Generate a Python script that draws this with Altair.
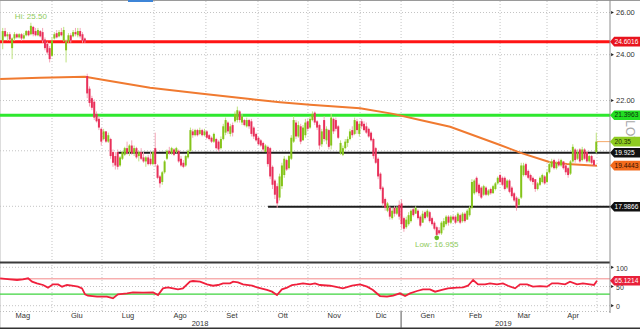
import altair as alt
import pandas as pd
import numpy as np

# ---------------- data ----------------
OPEN = [24.65,25.10,24.85,24.95,24.30,24.75,24.95,24.80,24.95,24.75,
24.90,25.10,24.95,25.30,25.10,24.90,25.10,25.05,24.70,24.50,
24.30,23.95,24.75,25.00,24.85,25.05,24.65,24.20,24.60,24.90,
24.85,25.05,24.90,25.10,24.95,24.75,23.05,22.50,22.10,21.95,
21.45,21.25,20.85,20.45,20.75,20.35,20.45,19.95,19.80,19.95,
19.45,19.70,19.85,20.10,19.95,20.20,19.90,20.10,19.80,19.95,
19.75,19.60,19.75,19.70,19.50,20.10,19.45,19.05,18.85,19.20,
19.70,20.00,19.90,20.05,19.95,20.00,19.70,19.55,19.45,19.75,
20.00,20.75,20.60,20.80,20.65,20.80,20.60,20.75,20.60,20.50,
20.35,20.45,20.35,20.10,20.45,20.70,21.10,20.65,21.00,21.15,
21.20,21.55,21.10,21.20,20.95,21.20,21.15,20.90,20.65,20.50,
20.40,20.30,19.95,20.15,20.10,19.40,18.90,18.70,18.30,18.70,
19.10,19.65,19.35,19.70,20.35,21.10,20.55,20.95,20.40,20.60,
21.15,20.90,21.20,21.50,21.15,21.00,20.25,21.20,20.40,20.80,
20.20,21.25,21.20,20.95,19.90,19.85,20.10,20.30,20.45,20.80,
20.65,21.15,20.65,21.15,21.05,20.95,20.85,20.70,20.45,20.10,
19.70,19.15,18.65,18.25,17.85,17.95,17.60,17.95,17.75,18.05,
18.10,17.60,17.30,17.40,17.50,17.90,17.75,17.85,17.65,17.45,
17.80,17.65,17.80,17.60,17.45,17.30,17.20,17.10,17.30,17.40,
17.65,17.45,17.65,17.65,17.50,17.70,17.50,17.75,17.55,17.70,
17.95,18.45,19.00,18.75,18.65,18.40,18.65,18.40,18.60,18.45,
18.60,18.80,19.10,19.00,19.00,18.65,18.90,18.65,18.45,18.30,
18.05,18.30,19.10,19.50,19.25,19.10,19.00,18.95,18.60,18.75,
18.85,19.05,18.85,19.20,19.40,19.65,19.35,19.60,19.45,19.60,
19.45,19.35,19.15,19.60,20.05,19.70,20.05,19.65,20.05,19.95,
19.60,19.80,19.65,19.95]

HIGH = [25.25,25.25,25.05,25.05,24.80,25.05,25.00,25.00,25.00,25.00,
25.15,25.15,25.50,25.35,25.25,25.25,25.15,25.25,24.80,24.60,
24.40,24.80,25.05,25.15,25.15,25.25,25.30,24.70,25.00,25.00,
25.15,25.25,25.25,25.25,25.05,24.80,23.15,22.60,22.20,22.05,
21.55,21.35,20.90,20.85,20.75,20.70,20.50,20.05,19.95,20.05,
19.80,20.00,20.15,20.35,20.25,20.40,20.20,20.15,20.00,20.10,
19.95,19.80,19.85,19.95,20.00,20.70,19.50,19.10,19.25,19.65,
20.05,20.15,20.15,20.10,20.15,20.05,19.80,19.65,19.85,20.05,
20.90,20.85,20.85,20.85,20.90,20.85,20.85,20.80,20.65,20.55,
20.70,20.50,20.40,20.55,21.05,21.30,21.15,21.05,21.10,21.55,
21.75,21.60,21.45,21.25,21.30,21.25,21.25,20.95,20.70,20.55,
20.45,20.35,20.25,20.20,20.15,19.45,18.95,18.80,19.15,19.55,
19.80,19.70,19.85,20.60,21.35,21.20,21.15,21.05,21.00,21.25,
21.25,21.35,21.55,21.55,21.20,21.05,20.85,21.35,20.95,20.85,
21.45,21.30,21.30,21.00,20.40,20.20,20.45,20.55,20.85,20.95,
21.30,21.25,21.15,21.25,21.15,21.10,20.90,20.75,20.50,20.15,
19.75,19.20,18.70,18.30,18.15,18.00,17.95,18.00,18.00,18.20,
18.25,17.65,17.65,17.80,17.90,17.95,18.00,17.90,17.70,17.85,
17.85,17.90,17.85,17.65,17.50,17.35,17.30,17.50,17.60,17.70,
17.70,17.70,17.70,17.70,17.80,17.75,17.80,17.80,17.90,18.00,
18.95,18.95,19.05,18.80,18.70,18.75,18.70,18.60,18.65,18.75,
18.85,19.05,19.15,19.05,19.05,18.95,18.95,18.70,18.50,18.35,
18.30,19.55,19.55,19.55,19.30,19.15,19.05,18.95,18.85,19.05,
19.15,19.10,19.30,19.60,19.70,19.70,19.60,19.70,19.70,19.60,
19.50,19.40,19.65,20.25,20.10,20.05,20.10,20.15,20.10,20.00,
19.85,19.85,19.70,20.70]

LOW = [24.25,24.80,24.65,24.65,23.80,24.65,24.75,24.75,24.65,24.70,
24.85,24.85,24.90,24.85,24.85,24.85,24.80,24.55,24.20,24.00,
23.65,23.90,24.70,24.75,24.80,24.85,24.60,23.65,24.55,24.55,
24.80,24.85,24.80,24.75,24.55,24.55,22.10,21.75,21.60,21.20,
21.10,20.80,20.20,20.40,20.30,20.30,19.70,19.40,19.30,19.30,
19.40,19.65,19.80,19.85,19.80,19.85,19.80,19.70,19.60,19.65,
19.55,19.40,19.45,19.45,19.45,19.40,18.95,18.65,18.75,19.15,
19.65,19.85,19.85,19.80,19.90,19.55,19.40,19.35,19.40,19.70,
19.95,20.50,20.55,20.55,20.60,20.55,20.55,20.45,20.40,20.30,
20.30,20.05,19.95,20.05,20.40,20.60,20.65,20.55,20.55,21.10,
21.10,21.10,21.00,20.95,20.90,20.85,20.55,20.45,20.35,20.20,
20.15,19.95,19.95,19.40,18.95,18.60,18.25,17.95,18.20,18.60,
19.00,19.25,19.30,19.65,20.30,20.45,20.50,20.25,20.40,20.50,
20.75,20.85,21.15,21.00,20.80,20.05,20.15,20.35,20.25,20.05,
20.05,20.65,20.75,20.45,19.85,19.80,20.05,20.15,20.40,20.50,
20.60,20.65,20.55,20.85,20.75,20.65,20.50,20.35,19.70,19.50,
18.95,18.55,18.00,17.85,17.80,17.55,17.55,17.65,17.70,17.55,
17.25,17.15,17.25,17.35,17.45,17.65,17.75,17.55,17.30,17.45,
17.55,17.60,17.45,17.35,17.20,16.955,17.05,17.05,17.20,17.35,
17.35,17.40,17.50,17.40,17.45,17.40,17.45,17.45,17.55,17.65,
17.90,18.40,18.45,18.35,18.25,18.35,18.35,18.35,18.40,18.45,
18.55,18.75,18.80,18.70,18.55,18.60,18.45,18.30,18.15,17.85,
18.00,18.25,19.05,19.05,18.95,18.85,18.75,18.50,18.55,18.70,
18.80,18.75,18.80,19.15,19.35,19.30,19.30,19.40,19.40,19.30,
19.10,19.00,19.10,19.55,19.55,19.65,19.55,19.60,19.65,19.55,
19.55,19.50,19.40,19.90]

CLOSE = [25.10,24.85,24.95,24.70,24.75,24.95,24.80,24.95,24.75,24.90,
25.10,24.90,25.35,24.95,24.90,25.15,24.85,24.65,24.30,24.10,
23.80,24.65,24.95,24.80,25.05,24.90,25.15,24.60,24.90,24.65,
25.05,24.95,25.10,24.85,24.65,24.60,22.30,21.90,21.70,21.30,
21.15,20.90,20.35,20.75,20.35,20.60,19.80,19.55,19.45,19.40,
19.75,19.95,20.10,19.90,20.20,19.90,20.10,19.75,19.95,19.70,
19.60,19.75,19.50,19.50,19.95,19.50,19.00,18.80,19.20,19.60,
20.00,19.90,20.10,19.85,20.10,19.60,19.45,19.40,19.80,20.00,
20.80,20.60,20.80,20.60,20.80,20.60,20.75,20.50,20.45,20.35,
20.65,20.10,20.05,20.45,20.95,21.20,20.75,20.95,20.70,21.45,
21.60,21.20,21.35,21.00,21.20,20.95,20.65,20.55,20.40,20.25,
20.20,20.05,20.20,19.50,19.05,18.75,18.40,18.10,19.05,19.45,
19.70,19.30,19.80,20.50,21.20,20.55,21.00,20.35,20.90,21.10,
20.85,21.25,21.45,21.10,20.90,20.20,20.75,20.45,20.85,20.15,
21.30,20.75,20.85,20.50,20.30,20.10,20.35,20.45,20.75,20.60,
21.20,20.80,21.05,20.95,20.80,20.70,20.55,20.40,19.80,19.55,
19.05,18.60,18.10,17.95,18.10,17.65,17.85,17.75,17.95,17.65,
17.40,17.25,17.55,17.70,17.85,17.70,17.95,17.60,17.35,17.75,
17.60,17.85,17.50,17.40,17.25,17.05,17.10,17.45,17.50,17.65,
17.45,17.65,17.55,17.45,17.75,17.45,17.75,17.50,17.85,17.95,
18.85,18.90,18.50,18.45,18.30,18.70,18.40,18.55,18.45,18.70,
18.80,19.00,18.85,18.75,18.60,18.90,18.50,18.35,18.20,17.95,
18.25,19.45,19.45,19.10,19.00,18.90,18.85,18.60,18.80,19.00,
19.10,18.80,19.20,19.50,19.60,19.35,19.55,19.45,19.65,19.35,
19.20,19.10,19.60,20.15,19.65,19.95,19.60,20.05,19.70,19.60,
19.80,19.55,19.45,20.35]

MA_IDX = [-1.1,15.9,35.1,45.7,62.8,84.1,105.4,118.2,131.0,152.3,166.4,177.9,190.7,212.0,220.5,233.3,240.5,253.3]
MA_VAL = [22.92,22.97,23.02,22.83,22.54,22.30,22.06,21.93,21.82,21.68,21.45,21.20,20.93,20.22,19.93,19.57,19.50,19.44]

RSI_IDX = [-1.1,3.1,6.1,8.6,10.8,12.5,14.6,17.2,19.3,21.4,23.6,25.3,27.4,29.5,32.1,33.8,35.1,36.3,40.2,44.4,
47.0,49.1,53.0,55.5,59.8,64.1,66.2,68.3,70.4,72.6,74.7,76.8,79.8,81.1,84.1,87.1,89.6,91.8,93.9,96.9,
98.2,100.3,102.4,106.3,108.8,112.6,114.8,116.9,119.0,121.2,123.3,125.4,128.0,131.0,133.1,135.2,139.5,141.6,145.0,148.9,
152.3,155.3,157.8,160.8,163.8,166.4,169.3,171.5,173.6,176.6,179.1,182.1,184.3,187.2,189.8,193.6,196.2,198.3,200.5,202.6,
205.6,207.7,210.7,213.2,215.4,218.4,220.5,223.5,226.0,229.0,232.0,234.1,236.7,239.7,241.8,244.8,247.3,250.3,252.0,253.3]
RSI_VAL = [71.3,68.7,67.0,68.7,71.3,62.6,58.3,53.9,47.0,55.6,55.6,49.5,53.9,52.0,49.5,45.2,29.6,26.0,23.5,23.5,
19.2,29.6,32.2,34.8,33.9,34.8,27.9,45.2,47.9,45.2,42.6,45.2,62.6,64.3,62.6,55.6,52.0,53.9,58.3,58.3,
62.6,60.9,55.6,52.0,47.0,41.0,36.5,27.9,42.6,47.0,53.9,55.6,58.3,55.6,58.3,53.9,52.0,49.5,45.2,52.0,
55.6,49.5,41.0,25.2,23.5,26.0,32.2,25.2,32.2,38.3,42.6,42.6,36.5,41.0,45.2,47.0,47.9,52.0,67.0,55.6,
55.6,58.3,55.6,58.3,52.0,45.2,55.6,55.6,49.5,51.0,49.5,58.3,58.3,55.6,62.6,55.6,58.3,55.6,53.9,65.1]

LEVEL_VALUES = [24.6016, 21.3963, 19.925, 17.9866]
LEVEL_START = [-1.165, -1.165, 49.1, 113.1]
LEVEL_COLORS = ["#ff1414", "#2ee82e", "#1c1c1c", "#1c1c1c"]
LEVEL_WIDTHS = [3, 3, 2, 2]

TAG_LABELS = ["24.6016", "21.3963", "20.35", "19.925", "19.4443", "17.9866"]
TAG_VALUES = [24.6016, 21.3963, 20.35, 19.925, 19.4443, 17.9866]
TAG_FILLS = ["#e8141e", "#22dd22", "#8fcc22", "#111111", "#f26b1d", "#111111"]
TAG_TEXTS = ["#ffffff", "#0d330d", "#223300", "#ffffff", "#331100", "#ffffff"]

LAST_PRICE = 20.35
RSI_LAST = 65.1214
RSI_HI, RSI_LO = 70, 30

PRICE_TICKS = [26, 24, 22]
PRICE_GRID = [26, 24, 22, 20, 18]
RSI_TICKS = [100, 50, 0]

MONTH_NAMES = ["Mag", "Giu", "Lug", "Ago", "Set", "Ott", "Nov", "Dic", "Gen", "Feb", "Mar", "Apr"]
MONTH_CENTERS = [8.6, 31.6, 53.4, 75.6, 97.7, 119.4, 141.3, 161.3, 181.1, 201.5, 222.2, 243.1]
MONTH_BOUNDS = [21.0, 42.3, 64.5, 86.6, 108.8, 130.1, 152.3, 169.8, 192.0, 212.0, 232.0, 253.3]
YEARS = ["2018", "2019"]
YEAR_POS = [84.1, 213.4]
YEAR_BREAK = 169.8

HI_LABEL, HI_IDX, HI_VAL = "Hi: 25.50", 12, 25.50
LOW_LABEL, LOW_IDX, LOW_VAL = "Low: 16.955", 185, 16.955

# ---------------- scales ----------------
X_END = 258.85
XS = alt.Scale(domain=[-1.165, X_END], range=[0, 610], nice=False, zero=False)
PS = alt.Scale(type="log", domain=[18, 26], range=[206.3, 12.5], nice=False)
RS = alt.Scale(domain=[0, 100], range=[305.7, 267.3], nice=False, zero=False)
FONT = "Liberation Sans"


def X(f):
    return alt.X(f, type="quantitative", scale=XS, axis=None)


def PY(f):
    return alt.Y(f, type="quantitative", scale=PS, axis=None)


def RY(f):
    return alt.Y(f, type="quantitative", scale=RS, axis=None)


n = min(len(OPEN), len(HIGH), len(LOW), len(CLOSE))
cd = pd.DataFrame({"i": np.arange(n), "o": OPEN[:n], "h": HIGH[:n], "l": LOW[:n], "c": CLOSE[:n]})
up = cd[cd.c >= cd.o]
dn = cd[cd.c < cd.o]

ma = pd.DataFrame({"i": MA_IDX, "v": MA_VAL})
rsi = pd.DataFrame({"i": RSI_IDX, "v": RSI_VAL})
rsi["lo"] = np.minimum(rsi.v, RSI_LO)
rsi["hi"] = np.maximum(rsi.v, RSI_HI)
rsi["l30"] = RSI_LO
rsi["l70"] = RSI_HI

lev = pd.DataFrame({"v": LEVEL_VALUES, "s": LEVEL_START, "e": X_END, "col": LEVEL_COLORS, "w": LEVEL_WIDTHS})
tags = pd.DataFrame({"lab": TAG_LABELS, "v": TAG_VALUES, "fill": TAG_FILLS, "tc": TAG_TEXTS})
one = pd.DataFrame({"k": [0]})

TAG_SHAPE = "M-1,0L-0.72,-0.32L1,-0.32L1,0.32L-0.72,0.32Z"

layers = []

# frame pieces
layers.append(alt.Chart(one).mark_rule(color="#9a9a9a", strokeWidth=1).encode(
    x=alt.value(0), x2=alt.value(640), y=alt.value(0.5)))
layers.append(alt.Chart(one).mark_rect(color="#3d85d8").encode(
    x=alt.value(128), x2=alt.value(153), y=alt.value(0), y2=alt.value(2)))

# grid
layers.append(alt.Chart(pd.DataFrame({"b": MONTH_BOUNDS})).mark_rule(
    color="#c4c4c4", strokeWidth=1, strokeDash=[1, 2]).encode(
    x=X("b"), y=alt.value(1), y2=alt.value(311)))
layers.append(alt.Chart(pd.DataFrame({"g": PRICE_GRID})).mark_rule(
    color="#c4c4c4", strokeWidth=1, strokeDash=[1, 2]).encode(
    y=PY("g"), x=alt.value(0), x2=alt.value(610)))
layers.append(alt.Chart(pd.DataFrame({"g": RSI_TICKS})).mark_rule(
    color="#c4c4c4", strokeWidth=1, strokeDash=[1, 2]).encode(
    y=RY("g"), x=alt.value(0), x2=alt.value(610)))

# RSI panel
layers.append(alt.Chart(rsi).mark_area(color="#bfeab5", opacity=0.9).encode(
    x=X("i"), y=RY("lo"), y2=alt.Y2("l30")))
layers.append(alt.Chart(rsi).mark_area(color="#f8c4cc", opacity=0.9).encode(
    x=X("i"), y=RY("hi"), y2=alt.Y2("l70")))
layers.append(alt.Chart(pd.DataFrame({"v": [RSI_HI]})).mark_rule(color="#f38a8a", strokeWidth=1).encode(
    y=RY("v"), x=alt.value(0), x2=alt.value(610)))
layers.append(alt.Chart(pd.DataFrame({"v": [RSI_LO]})).mark_rule(color="#3fd43f", strokeWidth=1.2).encode(
    y=RY("v"), x=alt.value(0), x2=alt.value(610)))
layers.append(alt.Chart(rsi).mark_line(color="#f0203c", strokeWidth=1.8).encode(
    x=X("i"), y=RY("v")))

# price levels and MA
layers.append(alt.Chart(lev).mark_rule().encode(
    x=X("s"), x2=alt.X2("e"), y=PY("v"),
    color=alt.Color("col:N", scale=None), strokeWidth=alt.StrokeWidth("w:Q", scale=None)))
layers.append(alt.Chart(ma).mark_line(color="#f07a30", strokeWidth=2).encode(
    x=X("i"), y=PY("v")))
layers.append(alt.Chart(pd.DataFrame({"s": [MONTH_BOUNDS[-1]], "e": [X_END], "v": [LAST_PRICE]})).mark_rule(
    color="#f5a869", strokeWidth=1).encode(x=X("s"), x2=alt.X2("e"), y=PY("v")))

# candles
layers.append(alt.Chart(up).mark_rule(color="#bde27e", strokeWidth=1).encode(x=X("i"), y=PY("l"), y2=alt.Y2("h")))
layers.append(alt.Chart(dn).mark_rule(color="#f4a6b8", strokeWidth=1).encode(x=X("i"), y=PY("l"), y2=alt.Y2("h")))
layers.append(alt.Chart(up).mark_rule(color="#84c41a", strokeWidth=2).encode(x=X("i"), y=PY("o"), y2=alt.Y2("c")))
layers.append(alt.Chart(dn).mark_rule(color="#e8305a", strokeWidth=2).encode(x=X("i"), y=PY("o"), y2=alt.Y2("c")))

# hi / low annotations
layers.append(alt.Chart(pd.DataFrame({"i": [HI_IDX], "v": [HI_VAL], "t": [HI_LABEL]})).mark_text(
    font=FONT, fontSize=8, color="#8fca5c", dy=-6).encode(x=X("i"), y=PY("v"), text="t:N"))
layers.append(alt.Chart(pd.DataFrame({"i": [LOW_IDX], "v": [LOW_VAL]})).mark_point(
    filled=True, size=22, color="#66bb22", opacity=1).encode(x=X("i"), y=PY("v")))
layers.append(alt.Chart(pd.DataFrame({"i": [LOW_IDX], "v": [LOW_VAL], "t": [LOW_LABEL]})).mark_text(
    font=FONT, fontSize=8, color="#8fca5c", dy=7).encode(x=X("i"), y=PY("v"), text="t:N"))

# panel separators / axis line
layers.append(alt.Chart(one).mark_rule(color="#3a3a3a", strokeWidth=2).encode(
    x=alt.value(0), x2=alt.value(610), y=alt.value(262.5)))
layers.append(alt.Chart(one).mark_rule(color="#bdbdbd", strokeWidth=1, strokeDash=[1, 2]).encode(
    x=alt.value(0), x2=alt.value(610), y=alt.value(311.5)))
layers.append(alt.Chart(one).mark_rule(color="#8c8c8c", strokeWidth=1).encode(
    x=alt.value(610), y=alt.value(0), y2=alt.value(313)))
layers.append(alt.Chart(one).mark_rule(color="#333333", strokeWidth=2).encode(
    x=alt.value(0), x2=alt.value(640), y=alt.value(328.5)))

# watermark text
layers.append(alt.Chart(pd.DataFrame({"t": ["LOT"]})).mark_text(
    font=FONT, fontSize=12, color="#a8a8a8", angle=90).encode(
    x=alt.value(630), y=alt.value(132), text="t:N"))

# right axis ticks and labels
pt = pd.DataFrame({"v": PRICE_TICKS, "t": ["%.2f" % v for v in PRICE_TICKS]})
rt = pd.DataFrame({"v": RSI_TICKS, "t": [str(v) for v in RSI_TICKS]})
layers.append(alt.Chart(pt).mark_point(shape="triangle-right", filled=True, size=10, color="#222222", opacity=1).encode(
    x=alt.value(612.5), y=PY("v")))
layers.append(alt.Chart(pt).mark_text(font=FONT, fontSize=7.5, color="#333333", align="left", baseline="middle").encode(
    x=alt.value(616), y=PY("v"), text="t:N"))
layers.append(alt.Chart(rt).mark_point(shape="triangle-right", filled=True, size=10, color="#222222", opacity=1).encode(
    x=alt.value(612.5), y=RY("v")))
layers.append(alt.Chart(rt).mark_text(font=FONT, fontSize=7, color="#333333", align="left", baseline="middle", dy=1.5).encode(
    x=alt.value(616), y=RY("v"), text="t:N"))

# value tags
layers.append(alt.Chart(tags).mark_point(shape=TAG_SHAPE, filled=True, size=900, opacity=1, strokeWidth=0).encode(
    x=alt.value(625), y=PY("v"), color=alt.Color("fill:N", scale=None)))
layers.append(alt.Chart(tags).mark_text(font=FONT, fontSize=6.6, align="left", baseline="middle").encode(
    x=alt.value(614.5), y=PY("v"), text="lab:N", color=alt.Color("tc:N", scale=None)))
rtag = pd.DataFrame({"v": [RSI_LAST], "lab": ["%.4f" % RSI_LAST]})
layers.append(alt.Chart(rtag).mark_point(shape=TAG_SHAPE, filled=True, size=900, opacity=1, strokeWidth=0,
                                         color="#e8203a").encode(x=alt.value(625), y=RY("v")))
layers.append(alt.Chart(rtag).mark_text(font=FONT, fontSize=6.6, align="left", baseline="middle", color="#ffffff").encode(
    x=alt.value(614.5), y=RY("v"), text="lab:N"))

# bottom time labels
layers.append(alt.Chart(pd.DataFrame({"i": MONTH_CENTERS, "t": MONTH_NAMES})).mark_text(
    font=FONT, fontSize=7.5, color="#333333", baseline="middle").encode(
    x=X("i"), y=alt.value(316), text="t:N"))
layers.append(alt.Chart(pd.DataFrame({"i": YEAR_POS, "t": YEARS})).mark_text(
    font=FONT, fontSize=7.5, color="#333333", baseline="middle").encode(
    x=X("i"), y=alt.value(324), text="t:N"))
layers.append(alt.Chart(pd.DataFrame({"i": [YEAR_BREAK]})).mark_rule(color="#555555", strokeWidth=1).encode(
    x=X("i"), y=alt.value(311), y2=alt.value(328)))

chart = alt.layer(*layers).properties(
    width=640, height=329,
    autosize=alt.AutoSizeParams(type="none"),
    padding=0,
).resolve_scale(y="independent").configure_view(stroke=None).configure(background="#ffffff")

chart.save("out.html", embed_options={"renderer": "svg", "actions": False})
